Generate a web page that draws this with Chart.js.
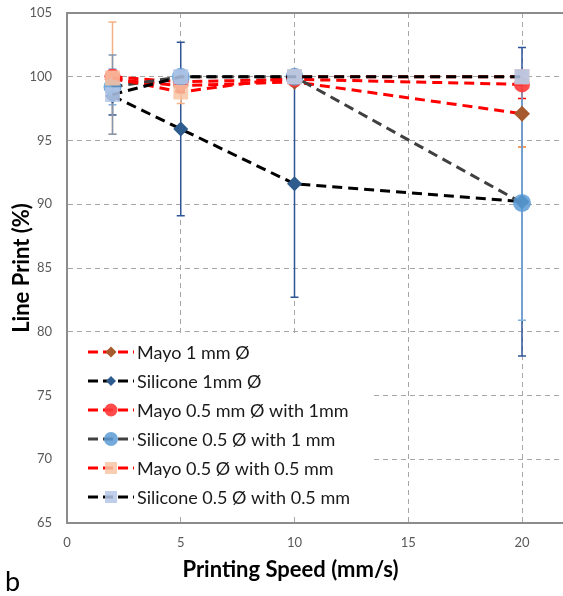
<!DOCTYPE html>
<html>
<head>
<meta charset="utf-8">
<script src="https://cdn.jsdelivr.net/npm/chart.js@4.4.1/dist/chart.umd.min.js"></script>
<style>
  html, body { margin: 0; padding: 0; background: #fff; }
  #wrap { width: 563px; height: 596px; overflow: hidden; }
  #box { width: 580px; height: 596px; }
</style>
</head>
<body>
<div id="wrap"><div id="box"><canvas id="lineChart"></canvas></div></div>
<script>
// data
const speeds = [2, 5, 10, 20];
const xTicks = [0, 5, 10, 15, 20];
const yTicks = [65, 70, 75, 80, 85, 90, 95, 100, 105];

const labels = [
  "Mayo 1 mm Ø",
  "Silicone 1mm Ø",
  "Mayo 0.5 mm Ø with 1mm",
  "Silicone 0.5 Ø with 1 mm",
  "Mayo 0.5 Ø with 0.5 mm",
  "Silicone 0.5 Ø with 0.5 mm"
];

const mayo1 = [99.8, 99.3, 99.6, 97.1];
const silicone1 = [98.5, 95.9, 91.6, 90.2];
const mayo05w1 = [100.0, 99.6, 99.8, 99.4];
const silicone05w1 = [99.2, 100.0, 100.0, 90.1];
const mayo05w05 = [99.9, 98.8, 100.0, 100.0];
const silicone05w05 = [98.6, 100.0, 100.0, 100.0];

// +/- error values
const errMayo1 = [0.4, 0.6, 0.3, 2.6];
const errSilicone1 = [1.5, 6.8, 8.9, 12.1];
const errMayo05w1 = [0.5, 0.5, 0.3, 1.1];
const errSilicone05w1 = [1.4, 0.4, 0.3, 9.2];
const errMayo05w05 = [4.4, 0.9, 0.3, 0.3];
const errSilicone05w05 = [3.1, 0.5, 0.3, 0.3];

const values = [mayo1, silicone1, mayo05w1, silicone05w1, mayo05w05, silicone05w05];
const errors = [errMayo1, errSilicone1, errMayo05w1, errSilicone05w1, errMayo05w05, errSilicone05w05];

const lineColors = ["#ff0000", "#000000", "#ff0000", "#404040", "#ff0000", "#000000"];
const markerColors = [
  "#a65a2e",
  "#2f5c8f",
  "rgba(255,55,55,0.9)",
  "rgba(91,155,213,0.85)",
  "rgba(248,196,165,0.85)",
  "rgba(180,199,231,0.85)"
];
const errColors = ["#ed7d31", "#2f5597", "#ff0000", "#7fb0de", "#f4b183", "#8497b0"];
const pointStyles = ["rectRot", "rectRot", "circle", "circle", "rect", "rect"];
const pointSizes = [8, 7.5, 8, 9, 10.5, 10.5];
const legendSizes = [5.5, 5, 6.5, 7, 8.5, 8.5];

const font = "Lato, 'Open Sans', sans-serif";
const gridColor = "#a6a6a6";
const frameColor = "#8c8c8c";

const datasets = values.map((vals, i) => ({
  label: labels[i],
  data: speeds.map((s, j) => ({ x: s, y: vals[j] })),
  borderColor: lineColors[i],
  borderWidth: 3,
  borderDash: [10, 6],
  pointStyle: pointStyles[i],
  pointRadius: pointSizes[i],
  pointHoverRadius: pointSizes[i],
  pointBackgroundColor: markerColors[i],
  pointBorderWidth: 0,
  tension: 0,
  fill: false,
  order: values.length - i
}));

// error bars, drawn with the chart scales
const errorBars = {
  id: "errorBars",
  beforeDatasetsDraw(chart) {
    const { ctx, scales: { x, y } } = chart;

    // top frame line
    ctx.save();
    ctx.strokeStyle = frameColor;
    ctx.lineWidth = 2;
    ctx.beginPath();
    ctx.moveTo(chart.chartArea.left, chart.chartArea.top);
    ctx.lineTo(chart.chartArea.right + 5, chart.chartArea.top);
    ctx.stroke();
    ctx.restore();

    // legend box (sits over the grid, under the data)
    drawLegend(chart);

    errors.forEach((errs, i) => {
      ctx.save();
      ctx.strokeStyle = errColors[i];
      ctx.lineWidth = 1.5;
      errs.forEach((e, j) => {
        const px = x.getPixelForValue(speeds[j]);
        const top = y.getPixelForValue(values[i][j] + e);
        const bot = y.getPixelForValue(values[i][j] - e);
        ctx.beginPath();
        ctx.moveTo(px, top);
        ctx.lineTo(px, bot);
        ctx.moveTo(px - 4, top);
        ctx.lineTo(px + 4, top);
        ctx.moveTo(px - 4, bot);
        ctx.lineTo(px + 4, bot);
        ctx.stroke();
      });
      ctx.restore();
    });
  },
  afterDraw(chart) {
    const { ctx, scales: { x } } = chart;
    ctx.save();
    ctx.fillStyle = "#000";
    ctx.textAlign = "center";
    ctx.textBaseline = "middle";
    ctx.font = "bold 22px " + font;
    ctx.fillText("Printing Speed (mm/s)", x.getPixelForValue(10) - 4, 570);
    ctx.textAlign = "left";
    ctx.font = "27px " + font;
    ctx.fillText("b", 5, 582);
    ctx.restore();
  }
};

function drawLegend(chart) {
  const ctx = chart.ctx;
  const left = chart.chartArea.left + 1;
  ctx.save();
  ctx.fillStyle = "#fff";
  ctx.fillRect(left, 336, 304, 178);
  labels.forEach((text, i) => {
    const cy = 352 + i * 29;
    ctx.strokeStyle = lineColors[i];
    ctx.lineWidth = 3;
    ctx.setLineDash([10, 5]);
    ctx.beginPath();
    ctx.moveTo(88, cy);
    ctx.lineTo(134, cy);
    ctx.stroke();
    ctx.setLineDash([]);
    ctx.fillStyle = markerColors[i];
    Chart.helpers.drawPoint(ctx, {
      pointStyle: pointStyles[i],
      radius: legendSizes[i],
      rotation: 0,
      borderWidth: 0
    }, 111, cy);
    ctx.fillStyle = "#1a1a1a";
    ctx.font = "18px " + font;
    ctx.textBaseline = "middle";
    ctx.fillText(text, 137, cy + 1);
  });
  ctx.restore();
}

new Chart(document.getElementById("lineChart"), {
  type: "line",
  data: { datasets },
  plugins: [errorBars],
  options: {
    responsive: true,
    maintainAspectRatio: false,
    animation: false,
    layout: { padding: { left: 0, top: 13, right: 12.5, bottom: 0 } },
    plugins: {
      legend: { display: false },
      tooltip: { enabled: false }
    },
    scales: {
      x: {
        type: "linear",
        min: 0,
        max: 22,
        afterBuildTicks: s => { s.ticks = xTicks.map(v => ({ value: v })); },
        afterFit: s => { s.height = 73; },
        ticks: { padding: 12, color: "#595959", font: { family: font, size: 13 } },
        grid: { color: gridColor, lineWidth: 1, drawTicks: false },
        border: { color: frameColor, width: 2, dash: [5, 4] }
      },
      y: {
        type: "linear",
        min: 65,
        max: 105,
        afterBuildTicks: s => { s.ticks = yTicks.map(v => ({ value: v })); },
        afterFit: s => {
          s.width = 67;
          // label padding is not wanted in the layout
          s.paddingTop = 0;
          s.paddingBottom = 0;
        },
        ticks: { padding: 15, color: "#595959", font: { family: font, size: 13 } },
        grid: { color: gridColor, lineWidth: 1, drawTicks: false },
        border: { color: frameColor, width: 2, dash: [5, 4] },
        title: {
          display: true,
          text: "Line Print (%)",
          color: "#000",
          font: { family: font, size: 22, weight: "bold" },
          padding: { top: 9, bottom: 0 }
        }
      }
    }
  }
});
</script>
</body>
</html>
